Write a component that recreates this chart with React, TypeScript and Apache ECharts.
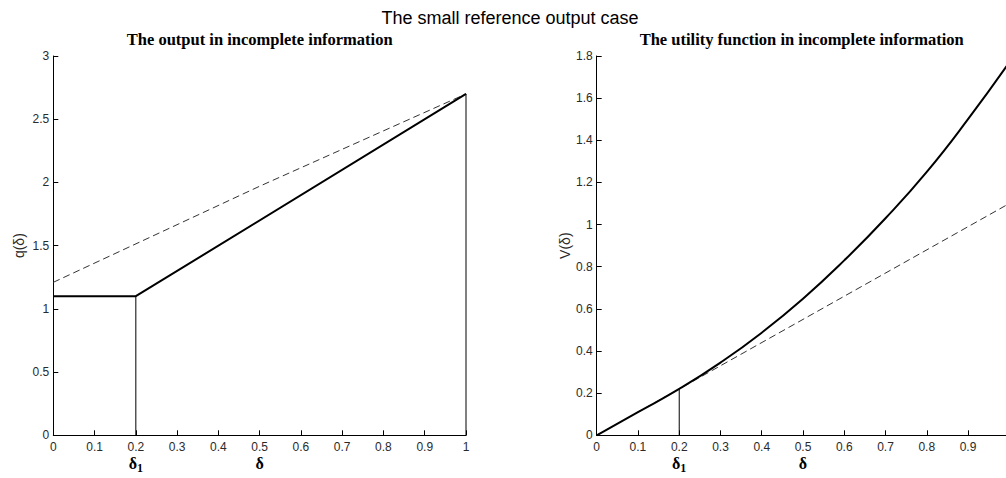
import React, { useEffect, useRef } from "react";
import * as echarts from "echarts";

// ---- Data ----
const mainTitle = "The small reference output case";
const leftTitle = "The output in incomplete information";
const rightTitle = "The utility function in incomplete information";

const delta1 = 0.2;

// Left panel: output q(δ)
const qSolidX = [0, 0.2, 1];
const qSolidY = [1.1, 1.1, 2.7];
const qDashedX = [0, 0.5, 1];
const qDashedY = [1.21, 1.97, 2.7];
const qAtDelta1 = 1.1;
const qAtOne = 2.7;

// Right panel: utility V(δ)
const vX = [0, 0.1, 0.2, 0.3, 0.4, 0.5, 0.6, 0.7, 0.8, 0.9, 1.0];
const vSolid = [0, 0.11, 0.22, 0.345, 0.487, 0.648, 0.83, 1.03, 1.25, 1.5, 1.77];
const vDashedX = [0, 1];
const vDashedY = [0, 1.1];
const vAtDelta1 = 0.22;

const zip = (xs: number[], ys: number[]) => xs.map((x, i) => [x, ys[i]]);

const SANS = "'Liberation Sans', Arial, sans-serif";
const SERIF = "'Liberation Serif', 'Times New Roman', serif";

export default function App() {
  const ref = useRef<HTMLDivElement>(null);

  useEffect(() => {
    if (!ref.current) return;
    const chart = echarts.init(ref.current, undefined, { renderer: "svg" });

    const xAxisCommon = (showMax: boolean) => ({
      type: "value",
      min: 0,
      max: 1,
      interval: 0.1,
      splitLine: { show: false },
      axisLine: { onZero: false, lineStyle: { color: "#000", width: 1 } },
      axisTick: { inside: true, length: 5, lineStyle: { color: "#000" } },
      axisLabel: {
        color: "#2a2a2a",
        fontFamily: SANS,
        fontSize: 12,
        margin: 4,
        lineHeight: 15,
        showMaxLabel: showMax,
        formatter: (v: number) => {
          const s = String(Math.round(v * 10) / 10);
          if (Math.abs(v - delta1) < 1e-9) return s + "\n{d|δ}{s|1}";
          if (Math.abs(v - 0.5) < 1e-9) return s + "\n{d|δ}";
          if (!showMax && v > 0.95) return "";
          return s;
        },
        rich: {
          d: {
            fontFamily: SERIF,
            fontWeight: "bold",
            fontSize: 16,
            color: "#000",
            lineHeight: 18,
          },
          s: {
            fontFamily: SERIF,
            fontWeight: "bold",
            fontSize: 12,
            color: "#000",
            lineHeight: 18,
            padding: [10, 0, 0, 0],
          },
        },
      },
    });

    const yAxisCommon = (max: number, interval: number, name: string, gap: number) => ({
      type: "value",
      min: 0,
      max,
      interval,
      name,
      nameLocation: "middle",
      nameGap: gap,
      nameTextStyle: { color: "#2a2a2a", fontFamily: SANS, fontSize: 14 },
      splitLine: { show: false },
      axisLine: { onZero: false, lineStyle: { color: "#000", width: 1 } },
      axisTick: { inside: true, length: 5, lineStyle: { color: "#000" } },
      axisLabel: {
        color: "#2a2a2a",
        fontFamily: SANS,
        fontSize: 12,
        margin: 4,
        showMaxLabel: true,
      },
    });

    const solid = (w: number) => ({ color: "#000", width: w });

    chart.setOption({
      animation: false,
      backgroundColor: "#fff",
      grid: [
        { left: 53.3, top: 56, width: 412.7, height: 379.3 },
        { left: 596.7, top: 56, width: 412.6, height: 379.3 },
      ],
      xAxis: [
        { ...xAxisCommon(true), gridIndex: 0 },
        { ...xAxisCommon(false), gridIndex: 1 },
      ],
      yAxis: [
        { ...yAxisCommon(3, 0.5, "q(δ)", 27), gridIndex: 0 },
        { ...yAxisCommon(1.8, 0.2, "V(δ)", 25), gridIndex: 1 },
      ],
      graphic: [
        {
          type: "text",
          x: 510,
          y: 18,
          style: {
            text: mainTitle,
            fill: "#000",
            font: `18px ${SANS}`,
            textAlign: "center",
            textVerticalAlign: "middle",
          },
        },
        {
          type: "text",
          x: 259.7,
          y: 39,
          style: {
            text: leftTitle,
            fill: "#000",
            font: `bold 16.5px ${SERIF}`,
            textAlign: "center",
            textVerticalAlign: "middle",
          },
        },
        {
          type: "text",
          x: 801.7,
          y: 39,
          style: {
            text: rightTitle,
            fill: "#000",
            font: `bold 16.5px ${SERIF}`,
            textAlign: "center",
            textVerticalAlign: "middle",
          },
        },
      ],
      series: [
        {
          type: "line",
          xAxisIndex: 0,
          yAxisIndex: 0,
          data: zip(qDashedX, qDashedY),
          symbol: "none",
          lineStyle: { color: "#333", width: 1, type: [7, 4] },
        },
        {
          type: "line",
          xAxisIndex: 0,
          yAxisIndex: 0,
          data: zip(qSolidX, qSolidY),
          symbol: "none",
          lineStyle: solid(2),
        },
        {
          type: "line",
          xAxisIndex: 0,
          yAxisIndex: 0,
          data: [
            [delta1, 0],
            [delta1, qAtDelta1],
          ],
          symbol: "none",
          lineStyle: solid(1),
        },
        {
          type: "line",
          xAxisIndex: 0,
          yAxisIndex: 0,
          data: [
            [1, 0],
            [1, qAtOne],
          ],
          symbol: "none",
          lineStyle: solid(1),
        },
        {
          type: "line",
          xAxisIndex: 1,
          yAxisIndex: 1,
          data: zip(vDashedX, vDashedY),
          symbol: "none",
          lineStyle: { color: "#333", width: 1, type: [7, 4] },
        },
        {
          type: "line",
          xAxisIndex: 1,
          yAxisIndex: 1,
          data: zip(vX, vSolid),
          symbol: "none",
          smooth: 0.5,
          lineStyle: solid(2),
        },
        {
          type: "line",
          xAxisIndex: 1,
          yAxisIndex: 1,
          data: [
            [delta1, 0],
            [delta1, vAtDelta1],
          ],
          symbol: "none",
          lineStyle: solid(1),
        },
      ],
    });

    return () => chart.dispose();
  }, []);

  return (
    <div
      style={{
        position: "absolute",
        left: 0,
        top: 0,
        width: 1006,
        height: 478,
        overflow: "hidden",
        background: "#fff",
      }}
    >
      <div ref={ref} style={{ width: 1020, height: 478 }} />
    </div>
  );
}
